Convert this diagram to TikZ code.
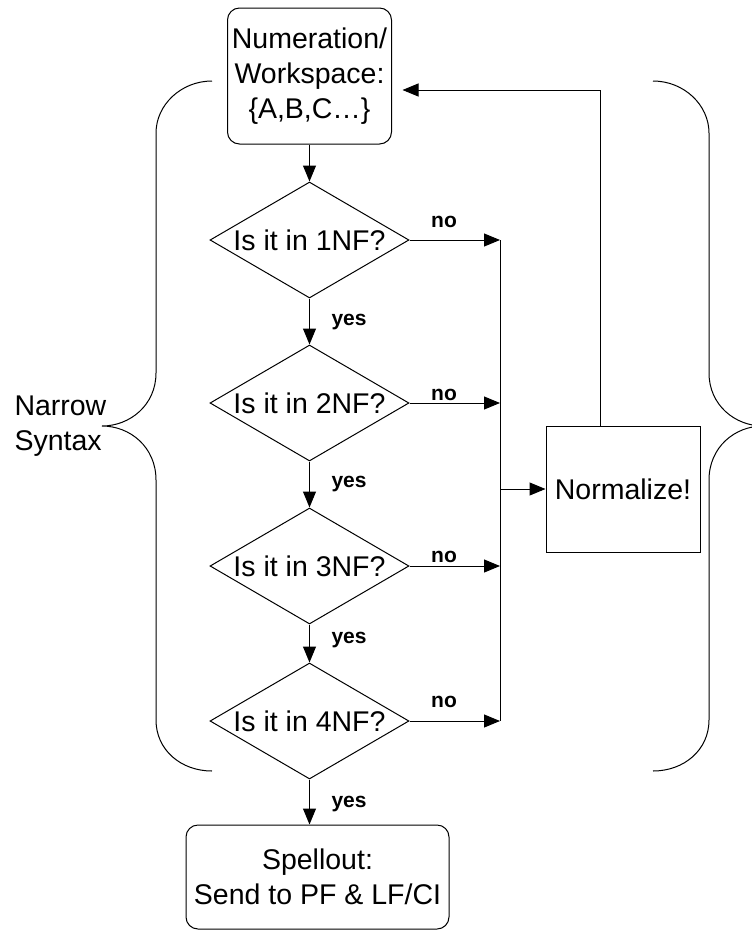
\documentclass[tikz,border=0pt]{standalone}
\usepackage{fontspec}
\setmainfont{Liberation Sans}
\usetikzlibrary{shapes.geometric,arrows.meta}
\begin{document}
\begin{tikzpicture}[x=1pt,y=-1pt,line width=1pt,
    font=\fontsize{28.5}{35}\selectfont,
    flecha/.style={-{Triangle[length=16pt,width=13pt]}},
    caja/.style={draw,rounded corners=12pt,align=center,inner sep=0pt},
    rombo/.style={draw,diamond,minimum width=199pt,minimum height=116pt,inner sep=0pt},
    etiq/.style={font=\fontsize{21}{25}\selectfont\bfseries,inner sep=0pt}]
    \useasboundingbox (0,0) rectangle (752,932);

    % caja de arriba y caja final
    \node[caja,minimum width=164pt,minimum height=136pt] (ws) at (309.5,76) {Numeration/\\Workspace:\\\{A,B,C…\}};
    \node[caja,minimum width=263pt,minimum height=104pt] (spell) at (317.5,877) {Spellout:\\Send to PF \& LF/CI};
    \node[draw,minimum width=154pt,minimum height=126pt,inner sep=0pt] (norm) at (623,489) {Normalize!};
    \node[align=left,anchor=west,inner sep=0pt] (narrow) at (14,426) {Narrow\\Syntax};

    % los cuatro rombos, con su flecha "no" hacia la barra
    \coordinate (bus) at (500,0);
    \foreach \n/\y/\b in {1/240/227,2/403/400,3/566/562,4/721/707} {
        \node[rombo] (d\n) at (309.5,\y) {\makebox[0pt]{Is it in \n NF?}};
        \draw[flecha] (d\n.east) -- (d\n.east -| bus);
        \node[etiq,anchor=base] (no\n) at (444,\b) {no};
    }

    % flechas "yes" hacia abajo
    \draw[flecha] (ws.south) -- (d1.north);
    \foreach \a/\b in {1/2,2/3,3/4}
        \draw[flecha] (d\a.south) -- (d\b.north);
    \draw[flecha] (d4.south) -- (d4.south |- spell.north);
    \foreach \n/\y in {1/325,2/487,3/643,4/807}
        \node[etiq,anchor=base west] (yes\n) at (331,\y) {yes};

    % barra vertical y vuelta a la caja de arriba
    \draw (d1.east -| bus) -- (d4.east -| bus);
    \draw[flecha] (norm.west -| bus) -- (norm.west);
    \coordinate (codo) at (600,90);
    \draw[flecha,shorten >=10.5pt] (norm.north -| codo) -- (codo) -- (codo -| ws.east);

    % llaves
    \draw (212,81) .. controls (181,81) and (156,105) .. (156,133) -- (156,373)
        .. controls (156,405) and (130,426) .. (102,426)
        .. controls (130,426) and (156,447) .. (156,480) -- (156,720)
        .. controls (156,750) and (181,771) .. (212,771);
    \begin{scope}
        \clip (0,0) rectangle (752,932);
        \draw (653,81) .. controls (684,81) and (709,105) .. (709,133) -- (709,373)
            .. controls (709,405) and (735,426) .. (763,426)
            .. controls (735,426) and (709,447) .. (709,480) -- (709,720)
            .. controls (709,750) and (684,771) .. (653,771);
    \end{scope}
\end{tikzpicture}
\end{document}
